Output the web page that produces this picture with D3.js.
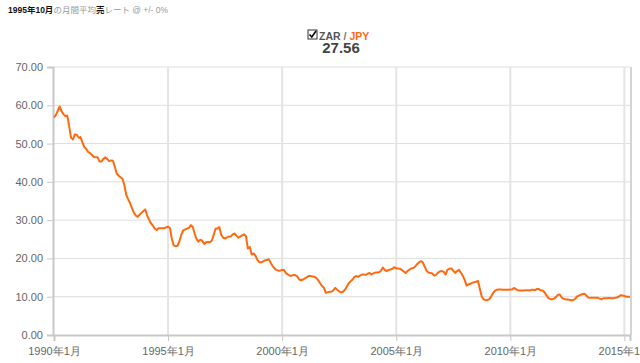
<!DOCTYPE html>
<html>
<head>
<meta charset="utf-8">
<script src="https://cdn.jsdelivr.net/npm/d3@7"></script>
<style>
  body { margin: 0; background: #fff; }
  svg { display: block; font-family: "Liberation Sans", Arial, "Noto Sans CJK JP", sans-serif; }
  .grid line { stroke: #dedede; }
  .axis path.domain { stroke: #c8c8c8; stroke-width: 2; }
  .axis .tick line { stroke: #c8c8c8; }
  .axis text { fill: #666; font-size: 11px; }
</style>
</head>
<body>
<div id="chart"></div>
<script>
// monthly average ZAR/JPY rate, starting 1990-01
const startYear = 1990;
const rates = [
  56.8, 57.5, 58.5, 59.7, 58.5, 57.7, 57.2, 57.3, 54.5, 51.5, 51.1, 52.4,
  52.3, 51.5, 51.7, 50.3, 49.1, 48.6, 47.8, 47.5, 47.0, 46.5, 46.4, 46.4,
  45.3, 45.3, 46.0, 46.4, 46.0, 45.4, 45.6, 45.5, 43.9, 42.2, 41.6, 41.2,
  40.8, 39.1, 36.7, 35.5, 34.5, 33.2, 32.0, 31.2, 30.9, 31.4, 31.9, 32.4,
  32.8, 31.2, 30.2, 29.2, 28.6, 27.8, 27.4, 27.9, 27.9, 27.9, 27.9, 28.1,
  28.3, 27.9, 25.2, 23.4, 23.2, 23.3, 24.5, 26.2, 27.3, 27.56, 27.8, 28.0,
  28.7, 28.2, 26.5, 25.1, 24.4, 24.9, 24.6, 23.8, 24.2, 24.3, 24.2, 24.6,
  26.2, 27.8, 27.8, 28.2, 26.2, 25.4, 25.2, 25.5, 25.7, 25.7, 26.3, 26.5,
  25.9, 25.4, 25.7, 26.0, 26.3, 25.8, 22.6, 23.0, 21.0, 21.3, 20.7, 19.6,
  19.0, 19.0, 19.2, 19.5, 19.6, 19.8, 18.9, 18.0, 17.4, 17.0, 16.8, 16.8,
  17.0, 17.0, 16.2, 15.8, 15.5, 15.5, 15.7, 15.6, 15.3, 14.5, 14.3, 14.5,
  14.8, 15.1, 15.4, 15.4, 15.3, 15.2, 14.9, 14.3, 13.5, 12.8, 12.3, 11.0,
  11.2, 11.3, 11.3, 11.7, 12.3, 11.8, 11.4, 11.1, 11.3, 11.8, 12.6, 13.5,
  14.0, 14.5, 15.1, 15.4, 15.2, 15.5, 15.8, 15.8, 15.7, 16.0, 16.2, 15.8,
  16.1, 16.3, 16.3, 16.4, 16.8, 17.6, 17.0, 16.7, 17.0, 17.1, 17.3, 17.7,
  17.4, 17.4, 17.3, 17.0, 16.6, 16.2, 16.7, 17.1, 17.4, 17.5, 17.9, 18.5,
  19.0, 19.3, 19.0, 17.9, 16.8, 16.3, 16.2, 16.1, 15.5, 15.7, 16.3, 16.6,
  16.7, 16.5, 15.8, 17.0, 17.3, 17.4, 16.8, 16.2, 16.7, 17.0, 16.3, 15.5,
  14.4, 12.9, 13.2, 13.4, 13.6, 13.8, 13.9, 14.1, 12.0, 10.0, 9.3, 9.1,
  9.1, 9.4, 10.1, 11.0, 11.6, 11.8, 11.9, 11.9, 11.8, 11.8, 11.8, 11.8,
  11.9, 11.9, 12.3, 12.0, 11.7, 11.6, 11.6, 11.6, 11.7, 11.7, 11.6, 11.8,
  11.8, 11.7, 12.0, 12.0, 11.7, 11.6, 11.2, 10.4, 9.7, 9.4, 9.3, 9.5,
  9.9, 10.5, 10.6, 9.8, 9.5, 9.3, 9.3, 9.2, 9.1, 9.1, 9.4, 10.0,
  10.3, 10.5, 10.7, 10.8, 10.3, 9.8, 9.7, 9.7, 9.7, 9.7, 9.7, 9.5,
  9.3, 9.6, 9.6, 9.6, 9.7, 9.6, 9.6, 9.7, 9.8, 10.0, 10.4, 10.3,
  10.2, 10.0, 10.0, 10.0
];
const yTicks = [0, 10, 20, 30, 40, 50, 60, 70];
const xTickYears = [1990, 1995, 2000, 2005, 2010, 2015];
const pair = ["ZAR", "JPY"];
const selectedLabel = "1995年10月";
const selectedValue = "27.56";

const width = 640;
const height = 363;

const data = rates.map((v, i) => ({ date: new Date(startYear, i, 1), value: v }));

const svg = d3.select("#chart")
  .append("svg")
  .attr("width", width)
  .attr("height", height);

const x = d3.scaleTime()
  .domain([data[0].date, data[data.length - 1].date])
  .range([54, 630]);

const y = d3.scaleLinear()
  .domain([0, 70])
  .range([335, 67]);

// gridlines
svg.append("g")
  .attr("class", "grid")
  .selectAll("line")
  .data(yTicks.slice(1))
  .join("line")
  .attr("x1", x.range()[0])
  .attr("x2", x.range()[1])
  .attr("y1", d => y(d))
  .attr("y2", d => y(d));

svg.append("g")
  .attr("class", "grid")
  .selectAll("line")
  .data(xTickYears.slice(1))
  .join("line")
  .attr("x1", d => x(new Date(d, 0, 1)))
  .attr("x2", d => x(new Date(d, 0, 1)))
  .attr("y1", y(70))
  .attr("y2", y(0))
  .style("stroke", "#e4e4e4")
  .style("stroke-width", 2);

// right border
svg.append("line")
  .attr("x1", x.range()[1] + 1)
  .attr("x2", x.range()[1] + 1)
  .attr("y1", y(70))
  .attr("y2", y(0))
  .style("stroke", "#d4d4d4")
  .style("stroke-width", 2);

// axes
svg.append("g")
  .attr("class", "axis")
  .attr("transform", `translate(${x.range()[0] - 1},0)`)
  .call(d3.axisLeft(y)
    .tickValues(yTicks)
    .tickFormat(d3.format(".2f"))
    .tickSizeOuter(0)
    .tickSize(6)
    .tickPadding(4));

svg.append("g")
  .attr("class", "axis")
  .attr("transform", `translate(0,${y(0)})`)
  .call(d3.axisBottom(x)
    .tickValues(xTickYears.map(d => new Date(d, 0, 1)))
    .tickFormat(d => `${d.getFullYear()}年1月`)
    .tickSizeOuter(0)
    .tickSize(6)
    .tickPadding(6));

// rate line
svg.append("path")
  .datum(data)
  .attr("fill", "none")
  .attr("stroke", "#ff6a10")
  .attr("stroke-width", 2)
  .attr("stroke-linejoin", "round")
  .attr("d", d3.line()
    .x(d => x(d.date))
    .y(d => y(d.value)));

// draws pieces of text one after another on a baseline
function textRun(x0, y0, size, parts) {
  let cx = x0;
  parts.forEach(p => {
    const t = svg.append("text")
      .attr("x", cx)
      .attr("y", y0)
      .style("font-size", size + "px")
      .style("font-weight", p.bold ? "bold" : "normal")
      .style("fill", p.color)
      .text(p.text);
    cx += t.node().getComputedTextLength() + (p.gap || 0);
  });
}

// header line
textRun(8, 13, 8.5, [
  { text: selectedLabel, bold: true, color: "#111" },
  { text: "の月間平均", color: "#999" },
  { text: "売", bold: true, color: "#111" },
  { text: "レート @ +/- 0%", color: "#999" }
]);

// checkbox + pair title
const cb = svg.append("g").attr("transform", "translate(308,30)");
cb.append("rect")
  .attr("width", 9)
  .attr("height", 9)
  .attr("fill", "#fff")
  .attr("stroke", "#333");
cb.append("path")
  .attr("d", "M1.5,4.5 L3.8,7 L8,1")
  .attr("fill", "none")
  .attr("stroke", "#000")
  .attr("stroke-width", 1.6);

textRun(319, 40, 10.5, [
  { text: pair[0], bold: true, color: "#555", gap: 3 },
  { text: "/", bold: true, color: "#777", gap: 3 },
  { text: pair[1], bold: true, color: "#ff6a10" }
]);

svg.append("text")
  .attr("x", 341)
  .attr("y", 53)
  .attr("text-anchor", "middle")
  .style("font-size", "15px")
  .style("font-weight", "bold")
  .style("fill", "#444")
  .text(selectedValue);
</script>
</body>
</html>
